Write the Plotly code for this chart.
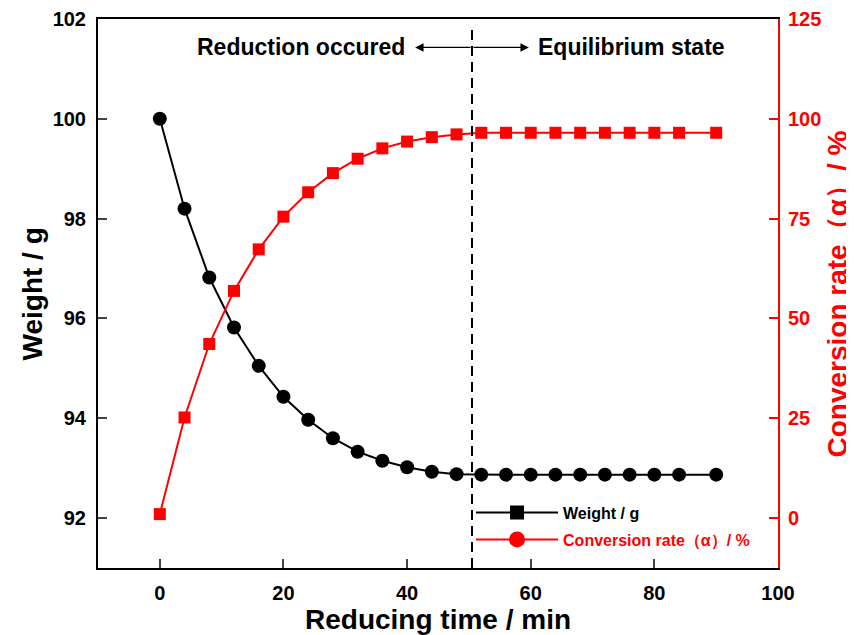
import plotly.graph_objects as go

time_min = [0, 4, 8, 12, 16, 20, 24, 28, 32, 36, 40, 44, 48, 52, 56, 60, 64, 68, 72, 76, 80, 84, 90]
weight_g = [100.0, 98.2, 96.82, 95.82, 95.05, 94.43, 93.97, 93.6, 93.33, 93.15, 93.02, 92.93, 92.88,
            92.87, 92.87, 92.87, 92.87, 92.87, 92.87, 92.87, 92.87, 92.87, 92.87]
conversion_pct = [1.0, 25.2, 43.6, 56.9, 67.3, 75.5, 81.6, 86.4, 90.0, 92.6, 94.3, 95.4, 96.1,
                  96.5, 96.5, 96.5, 96.5, 96.5, 96.5, 96.5, 96.5, 96.5, 96.5]
equilibrium_t = 50.5
x_ticks = [0, 20, 40, 60, 80, 100]
y_ticks = [92, 94, 96, 98, 100, 102]
y2_ticks = [0, 25, 50, 75, 100, 125]

FONT = "Liberation Sans, Arial, sans-serif"
RED = "#ff0000"

fig = go.Figure()
fig.add_trace(go.Scatter(x=time_min, y=weight_g, mode="lines+markers", showlegend=False,
                         line=dict(color="black", width=2),
                         marker=dict(symbol="circle", size=14, color="black")))
fig.add_trace(go.Scatter(x=time_min, y=conversion_pct, yaxis="y2", mode="lines+markers", showlegend=False,
                         line=dict(color=RED, width=2),
                         marker=dict(symbol="square", size=12, color=RED)))
# legend entries (as drawn in the reference)
fig.add_trace(go.Scatter(x=[None], y=[None], mode="lines+markers", name="Weight / g", legendgroup="w",
                         line=dict(color="black", width=2),
                         marker=dict(symbol="square", size=14, color="black")))
fig.add_trace(go.Scatter(x=[None], y=[None], yaxis="y2", mode="lines+markers", legendgroup="c",
                         name="<span style='color:#ff0000'>Conversion rate（α）/ %</span>",
                         line=dict(color=RED, width=2),
                         marker=dict(symbol="circle", size=17, color=RED)))

fig.add_shape(type="line", xref="x", yref="paper", x0=equilibrium_t, x1=equilibrium_t, y0=0, y1=0.98,
              line=dict(color="black", width=2, dash="10px,6px"))

ARROW_Y = 101.43
fig.add_annotation(x=41.3, y=ARROW_Y, ax=equilibrium_t, ay=ARROW_Y, axref="x", ayref="y",
                   xref="x", yref="y", showarrow=True, arrowhead=2, arrowsize=1.3, arrowwidth=1.3,
                   arrowcolor="black", text="")
fig.add_annotation(x=59.7, y=ARROW_Y, ax=equilibrium_t, ay=ARROW_Y, axref="x", ayref="y",
                   xref="x", yref="y", showarrow=True, arrowhead=2, arrowsize=1.3, arrowwidth=1.3,
                   arrowcolor="black", text="")
fig.add_annotation(x=40.0, y=ARROW_Y, xref="x", yref="y", text="Reduction occured", showarrow=False,
                   xanchor="right", font=dict(family=FONT, size=23, color="black", weight="bold"))
fig.add_annotation(x=60.9, y=ARROW_Y, xref="x", yref="y", text="Equilibrium state", showarrow=False,
                   xanchor="left", font=dict(family=FONT, size=23, color="black", weight="bold"))

# axis titles
fig.add_annotation(x=-0.0956, y=0.5, xref="paper", yref="paper", text="Weight / g", showarrow=False,
                   textangle=-90, xanchor="center", yanchor="middle",
                   font=dict(family=FONT, size=28, color="black", weight="bold"))
fig.add_annotation(x=1.0882, y=0.5, xref="paper", yref="paper", text="Conversion rate（α）/ %",
                   showarrow=False, textangle=-90, xanchor="center", yanchor="middle",
                   font=dict(family=FONT, size=28, color=RED, weight="bold"))
fig.add_annotation(x=0.5, y=-0.0935, xref="paper", yref="paper", text="Reducing time / min",
                   showarrow=False, xanchor="center", yanchor="middle",
                   font=dict(family=FONT, size=28, color="black", weight="bold"))

tickfont = dict(size=20, family=FONT, color="black", weight="bold")
# the page body adds an 8px offset, so the figure is 8px smaller and margins shifted accordingly
fig.update_layout(
    width=846, height=627,
    margin=dict(l=90, r=76, t=11, b=67, autoexpand=False),
    paper_bgcolor="white", plot_bgcolor="white",
    font=dict(family=FONT, color="black", weight="bold"),
    xaxis=dict(range=[-10, 100], tickvals=x_ticks, ticks="inside", ticklen=9, tickwidth=1.5,
               showline=True, linecolor="black", linewidth=2, mirror=True, showgrid=False, zeroline=False,
               ticklabelstandoff=6, automargin=False, tickfont=tickfont),
    yaxis=dict(range=[91, 102], tickvals=y_ticks, ticks="inside", ticklen=9, tickwidth=1.5,
               showline=True, linecolor="black", linewidth=2, showgrid=False, zeroline=False,
               ticklabelstandoff=6, automargin=False, tickfont=tickfont),
    yaxis2=dict(range=[-12.5, 125], tickvals=y2_ticks, overlaying="y", side="right",
                ticks="inside", ticklen=9, tickwidth=1.5, tickcolor=RED,
                showline=True, linecolor=RED, linewidth=2, showgrid=False, zeroline=False,
                ticklabelstandoff=4, automargin=False,
                tickfont=dict(size=20, family=FONT, color=RED, weight="bold")),
    legend=dict(x=0.5486, y=0.1317, xanchor="left", yanchor="top", bgcolor="rgba(0,0,0,0)",
                itemwidth=82, tracegroupgap=3,
                font=dict(size=16, family=FONT, color="black", weight="bold")),
)

fig.write_html("out.html")
